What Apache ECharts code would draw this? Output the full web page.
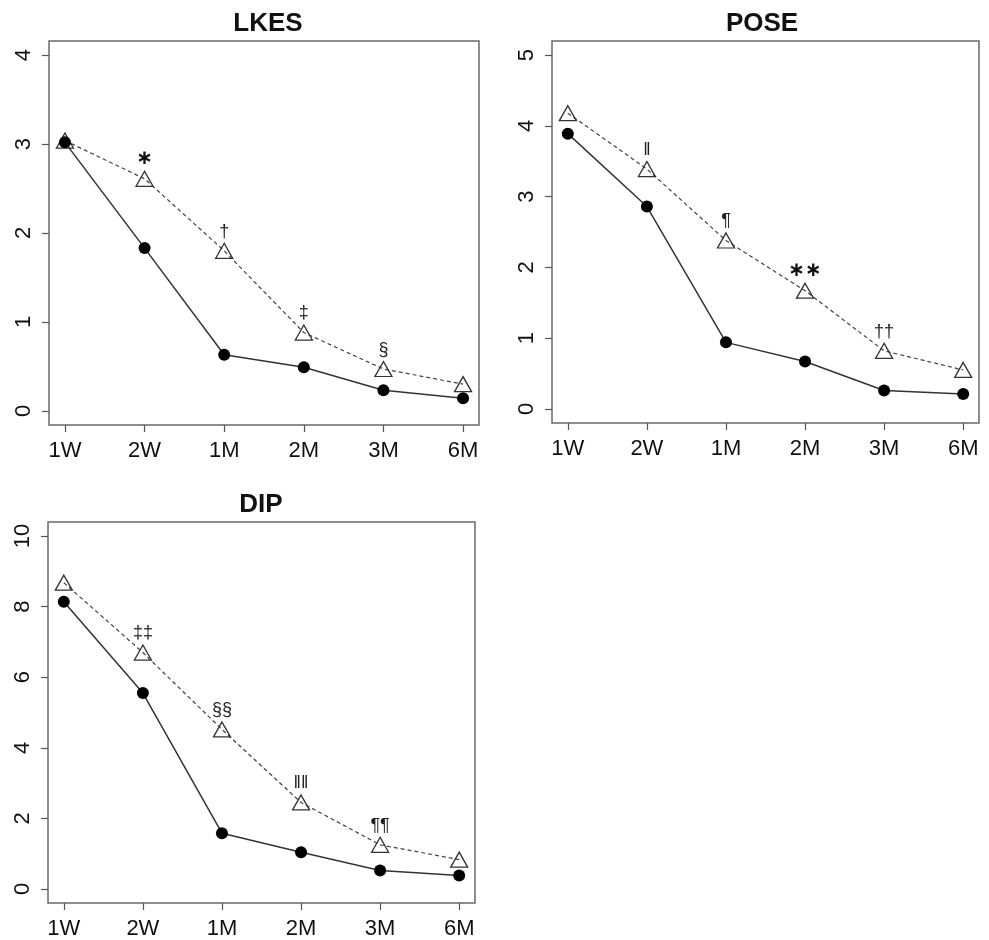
<!DOCTYPE html>
<html>
<head>
<meta charset="utf-8">
<script src="https://cdn.jsdelivr.net/npm/echarts@6/dist/echarts.min.js"></script>
<style>
  html, body { margin: 0; padding: 0; background: #fff; }
  #chart { width: 989px; height: 940px; }
</style>
</head>
<body>
<div id="chart"></div>
<script>
var categories = ["1W", "2W", "1M", "2M", "3M", "6M"];

var lkesSolid = [3.02, 1.83, 0.63, 0.49, 0.23, 0.14];
var lkesOpen = [3.04, 2.61, 1.80, 0.88, 0.47, 0.30];
var lkesNotes = ["", "\u2217", "\u2020", "\u2021", "\u00a7", ""];
var lkesTicks = [0, 1, 2, 3, 4];

var poseSolid = [3.89, 2.86, 0.94, 0.67, 0.26, 0.21];
var poseOpen = [4.18, 3.39, 2.38, 1.67, 0.82, 0.55];
var poseNotes = ["", "\u2016", "\u00b6", "\u2217\u2217", "\u2020\u2020", ""];
var poseTicks = [0, 1, 2, 3, 4, 5];

var dipSolid = [8.14, 5.55, 1.58, 1.04, 0.52, 0.38];
var dipOpen = [8.68, 6.70, 4.52, 2.45, 1.25, 0.83];
var dipNotes = ["", "\u2021\u2021", "\u00a7\u00a7", "\u2016\u2016", "\u00b6\u00b6", ""];
var dipTicks = [0, 2, 4, 6, 8, 10];

var FONT = "'Liberation Sans', Arial, sans-serif";

function toPoints(vals) {
  return vals.map(function (v, i) { return [i + 1, v]; });
}

function xAxisFor(idx) {
  var pos = categories.map(function (c, i) { return i + 1; });
  return {
    type: "value",
    gridIndex: idx,
    min: 0.8,
    max: 6.2,
    splitLine: { show: false },
    axisLine: { show: false, onZero: false },
    axisTick: { show: true, customValues: pos, length: 7, lineStyle: { color: "#555", width: 1.2 } },
    axisLabel: {
      customValues: pos,
      margin: 15,
      color: "#111",
      fontSize: 22,
      fontFamily: FONT,
      formatter: function (v) { return categories[Math.round(v) - 1]; }
    }
  };
}

function yAxisFor(idx, ticks) {
  // R style: 4% padding each side of the tick range
  var span = ticks[ticks.length - 1] - ticks[0];
  return {
    type: "value",
    gridIndex: idx,
    min: ticks[0] - span * 0.04,
    max: ticks[ticks.length - 1] + span * 0.04,
    splitLine: { show: false },
    axisLine: { show: false, onZero: false },
    axisTick: { show: true, customValues: ticks, length: 7, lineStyle: { color: "#555", width: 1.2 } },
    axisLabel: {
      customValues: ticks,
      rotate: 90,
      margin: 14,
      color: "#111",
      fontSize: 22,
      fontFamily: FONT
    }
  };
}

function seriesFor(idx, open, solid, notes) {
  return [
    {
      type: "line",
      xAxisIndex: idx,
      yAxisIndex: idx,
      data: toPoints(open),
      symbol: "triangle",
      symbolSize: [17, 15],
      lineStyle: { color: "#444", width: 1.2, type: [4, 3] },
      itemStyle: { color: "rgba(255,255,255,0)", borderColor: "#333", borderWidth: 1.3 },
      label: {
        show: true,
        position: "top",
        distance: 2,
        color: "#222",
        fontSize: 18,
        fontFamily: FONT,
        formatter: function (p) {
          var s = notes[p.dataIndex];
          return s.indexOf("\u2217") >= 0 ? "{star|" + s + "}" : s;
        },
        rich: {
          star: { fontSize: 20, fontWeight: "bold", fontFamily: "'DejaVu Sans', sans-serif", color: "#111" }
        }
      },
      animation: false,
      z: 2
    },
    {
      type: "line",
      xAxisIndex: idx,
      yAxisIndex: idx,
      data: toPoints(solid),
      symbol: "circle",
      symbolSize: 12,
      lineStyle: { color: "#333", width: 1.5 },
      itemStyle: { color: "#000", borderWidth: 0 },
      animation: false,
      z: 3
    }
  ];
}

var chart = echarts.init(document.getElementById("chart"));

var gridStyle = { show: true, borderColor: "#6a6a6a", borderWidth: 1.5, backgroundColor: "transparent" };

var option = {
  backgroundColor: "#fff",
  title: [
    { text: "LKES", left: 263, top: 6, textAlign: "center" },
    { text: "POSE", left: 757, top: 6, textAlign: "center" },
    { text: "DIP", left: 256, top: 487, textAlign: "center" }
  ].map(function (t) {
    t.textStyle = { fontFamily: FONT, fontSize: 26, fontWeight: "bold", color: "#111" };
    return t;
  }),
  grid: [
    Object.assign({ left: 49, top: 41, width: 430, height: 384 }, gridStyle),
    Object.assign({ left: 552, top: 41, width: 427, height: 382 }, gridStyle),
    Object.assign({ left: 48, top: 522, width: 427, height: 383 }, gridStyle)
  ],
  xAxis: [xAxisFor(0), xAxisFor(1), xAxisFor(2)],
  yAxis: [yAxisFor(0, lkesTicks), yAxisFor(1, poseTicks), yAxisFor(2, dipTicks)],
  series: []
    .concat(seriesFor(0, lkesOpen, lkesSolid, lkesNotes))
    .concat(seriesFor(1, poseOpen, poseSolid, poseNotes))
    .concat(seriesFor(2, dipOpen, dipSolid, dipNotes))
};

chart.setOption(option);
</script>
</body>
</html>
